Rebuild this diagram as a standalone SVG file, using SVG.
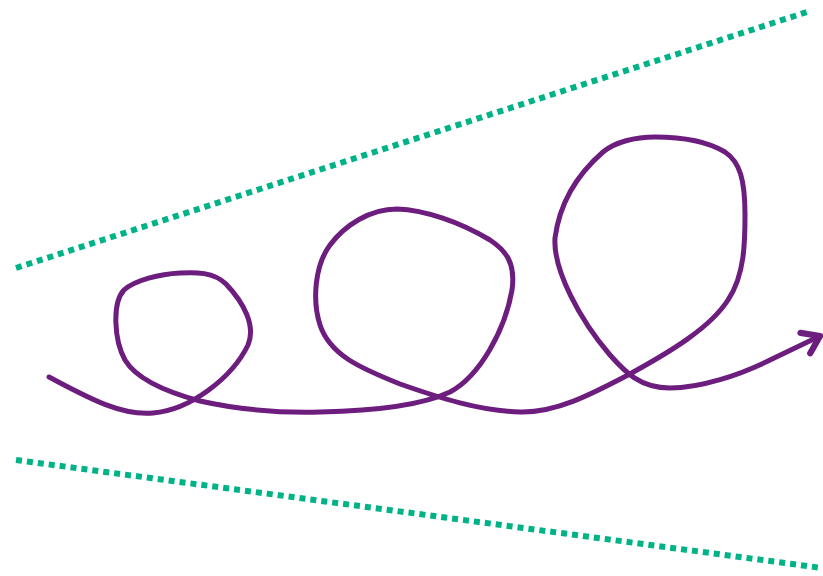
<svg xmlns="http://www.w3.org/2000/svg" width="823" height="576" viewBox="0 0 823 576">
<style>
.bound{fill:none;stroke:#00b386;stroke-width:6;stroke-dasharray:6 5}
.curve{fill:none;stroke:#6c1d7e;stroke-width:5;stroke-linecap:round;stroke-linejoin:round}
</style>
<defs>
<marker id="arr" markerUnits="userSpaceOnUse" orient="auto" refX="0" refY="0" markerWidth="30" markerHeight="30" viewBox="-16 -12 20 24" overflow="visible">
<path d="M-13,-9 L0,0 L-13,9" fill="none" stroke="#6c1d7e" stroke-width="5" stroke-linecap="round" stroke-linejoin="round"/>
</marker>
</defs>
<rect width="823" height="576" fill="#fff"/>
<g id="bounds">
<line class="bound" x1="16" y1="268" x2="810" y2="11"/>
<line class="bound" x1="16" y1="460" x2="822" y2="568"/>
</g>
<g id="connectors">
<path class="curve" marker-end="url(#arr)" d="M49,377 C85,396 120,416 153,413 C190,410 232,378 248,345 C256,326 244,303 226,284 C214,272 195,272 180,273 C160,274 135,280 124,290 C112,303 114,340 125,360 C137,380 170,393 200,401 C240,410 280,413 320,412 C370,411 420,406 450,392 C480,376 505,330 512,290 C516,262 505,250 490,240 C460,222 425,210 397,209 C370,209 345,225 330,245 C315,265 312,300 320,325 C330,355 360,368 400,384 C440,398 480,411 520,412 C555,413 590,395 628,375 C670,352 710,328 728,300 C745,275 745,240 745,215 C745,180 740,162 725,152 C705,140 680,137 655,137 C635,137 615,142 603,152 C580,172 560,200 555,238 C553,270 580,320 610,355 C625,372 640,388 670,388 C700,388 740,375 770,360 L820,336"/>
</g>
</svg>
